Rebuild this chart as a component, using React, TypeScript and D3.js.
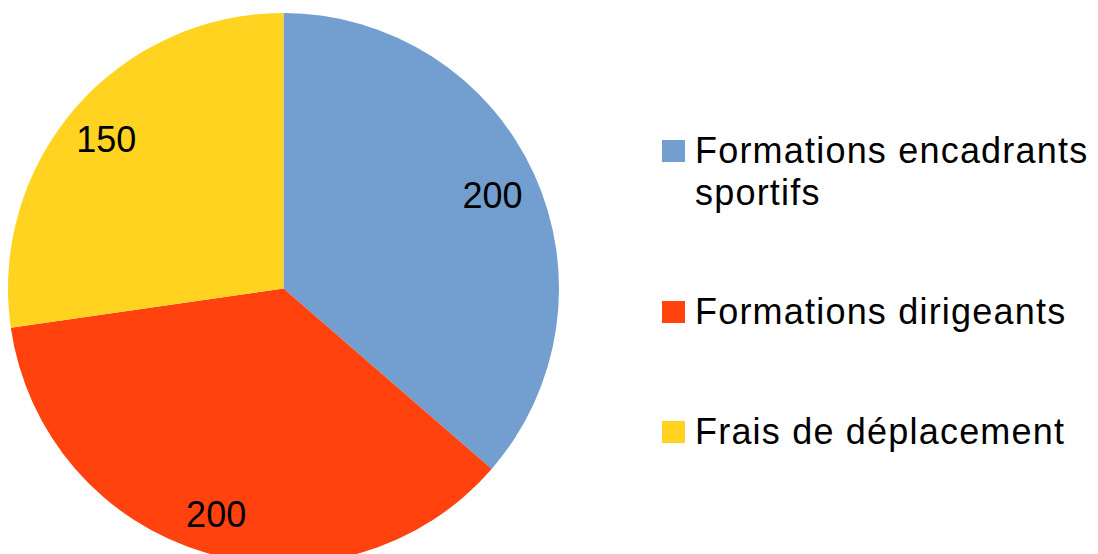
import React from 'react';
import * as d3 from 'd3';

const categories = ['Formations encadrants sportifs', 'Formations dirigeants', 'Frais de déplacement'];
const legendLines = [['Formations encadrants', 'sportifs'], ['Formations dirigeants'], ['Frais de déplacement']];
const values = [200, 200, 150];
const colors = ['#729fcf', '#ff420e', '#ffd320'];

const width = 1098;
const height = 554;
const cx = 283.5;
const cy = 288.5;
const radius = 275.5;

const App: React.FC = () => {
  const pie = d3.pie<number>().sort(null).value(d => d);
  const arcs = pie(values);
  const arc = d3.arc<d3.PieArcDatum<number>>().innerRadius(0).outerRadius(radius);
  const labelArc = d3.arc<d3.PieArcDatum<number>>().innerRadius(232).outerRadius(232);

  // legend baselines
  const legendY = [163, 324, 444];

  return (
    <svg width={width} height={height} style={{ position: 'absolute', left: 0, top: 0, background: '#fff' }}
      fontFamily="'Liberation Sans', Arial, sans-serif">
      <g transform={`translate(${cx},${cy})`}>
        {arcs.map((a, i) => (
          <path key={categories[i]} d={arc(a) || ''} fill={colors[i]} />
        ))}
        {arcs.map((a, i) => {
          const [x, y] = labelArc.centroid(a);
          return (
            <text key={'l' + i} x={x - 2} y={y + 3} textAnchor="middle" dominantBaseline="central" fontSize={36} fill="#000">
              {values[i]}
            </text>
          );
        })}
      </g>
      <g>
        {legendLines.map((lines, i) => (
          <g key={categories[i]}>
            <rect x={662} y={legendY[i] - 23} width={23} height={22} fill={colors[i]} />
            {lines.map((t, j) => (
              <text key={t} x={695} y={legendY[i] + j * 42} fontSize={36} letterSpacing={1.2} fill="#000">{t}</text>
            ))}
          </g>
        ))}
      </g>
    </svg>
  );
};

export default App;
